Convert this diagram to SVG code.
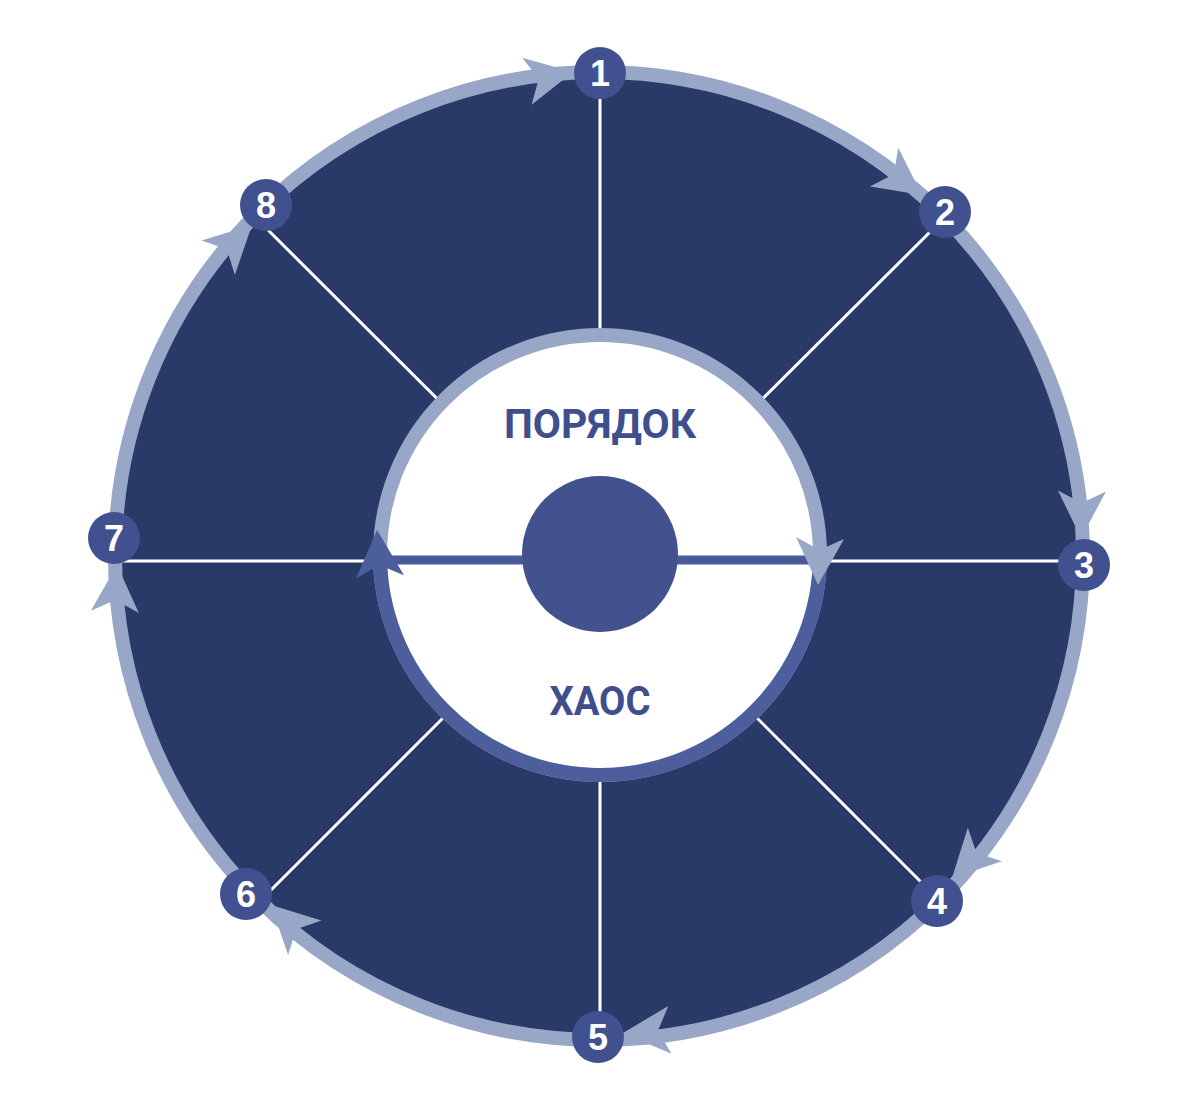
<svg xmlns="http://www.w3.org/2000/svg" width="1200" height="1109" viewBox="0 0 1200 1109">
<style>
.spoke{stroke:#ffffff;stroke-width:3;fill:none}
.node circle{fill:#41518f}
.node text{fill:#ffffff;font-family:"Liberation Sans",Arial,sans-serif;font-weight:700;font-size:36px;text-anchor:middle}
.arr{fill:#98a7c8}
.lbl{fill:#3f4f8e;font-family:Roboto,"Liberation Sans",sans-serif;font-weight:700;font-size:41px;text-anchor:middle}
</style>
<defs>
<path id="ah" d="M0,0 L-47,-24 L-35,0 L-47,24 Z"/>
</defs>
<rect width="1200" height="1109" fill="#ffffff"/>
<g id="outer-wheel">
<circle cx="599" cy="556" r="484" fill="#2a3a68" stroke="#98a7c8" stroke-width="14"/>
</g>
<g id="connectors">
<line class="spoke" x1="600" y1="561" x2="600" y2="90"/>
<line class="spoke" x1="600" y1="561" x2="936" y2="226"/>
<line class="spoke" x1="827" y1="561" x2="1070" y2="561"/>
<line class="spoke" x1="600" y1="561" x2="921" y2="882"/>
<line class="spoke" x1="600" y1="561" x2="600" y2="1020"/>
<line class="spoke" x1="600" y1="561" x2="270" y2="891"/>
<line class="spoke" x1="373" y1="561" x2="118" y2="561"/>
<line class="spoke" x1="600" y1="561" x2="268" y2="230"/>
<use href="#ah" class="arr" transform="translate(573,72) rotate(-11.3)"/>
<use href="#ah" class="arr" transform="translate(922,195) rotate(36.2)"/>
<use href="#ah" class="arr" transform="translate(1081,538) rotate(91.2)"/>
<use href="#ah" class="arr" transform="translate(952,878) rotate(134.5)"/>
<use href="#ah" class="arr" transform="translate(623,1033) rotate(176.2)"/>
<use href="#ah" class="arr" transform="translate(271,905) rotate(224)"/>
<use href="#ah" class="arr" transform="translate(117,565) rotate(-87.4)"/>
<use href="#ah" class="arr" transform="translate(252,225) rotate(-44)"/>
</g>
<g id="inner-cycle">
<circle cx="600" cy="555" r="220" fill="#ffffff" stroke="#98a7c8" stroke-width="14"/>
<path d="M819.7,566.5 A220,220 0 0 1 380,555" fill="none" stroke="#4d5e9c" stroke-width="14"/>
<line x1="385" y1="560" x2="815" y2="560" stroke="#4a5a99" stroke-width="9"/>
<use href="#ah" fill="#98a7c8" transform="translate(818,585) rotate(92.5)"/>
<use href="#ah" fill="#4d5e9c" transform="translate(377,530) rotate(-93.7)"/>
</g>
<g id="center">
<circle cx="600" cy="554" r="78" fill="#41528f"/>
</g>
<g id="label-order">
<text class="lbl" x="600" y="438" textLength="192" lengthAdjust="spacingAndGlyphs">ПОРЯДОК</text>
</g>
<g id="label-chaos">
<text class="lbl" x="600" y="715" textLength="101" lengthAdjust="spacingAndGlyphs">ХАОС</text>
</g>
<g id="node1" class="node"><circle cx="600" cy="73" r="26"/><text x="600" y="86">1</text></g>
<g id="node2" class="node"><circle cx="945" cy="212" r="26"/><text x="945" y="225">2</text></g>
<g id="node3" class="node"><circle cx="1084" cy="565" r="26"/><text x="1084" y="578">3</text></g>
<g id="node4" class="node"><circle cx="937" cy="901" r="26"/><text x="937" y="914">4</text></g>
<g id="node5" class="node"><circle cx="598" cy="1037" r="26"/><text x="598" y="1050">5</text></g>
<g id="node6" class="node"><circle cx="246" cy="894" r="26"/><text x="246" y="907">6</text></g>
<g id="node7" class="node"><circle cx="114" cy="538" r="26"/><text x="114" y="551">7</text></g>
<g id="node8" class="node"><circle cx="266" cy="205" r="26"/><text x="266" y="218">8</text></g>
</svg>
